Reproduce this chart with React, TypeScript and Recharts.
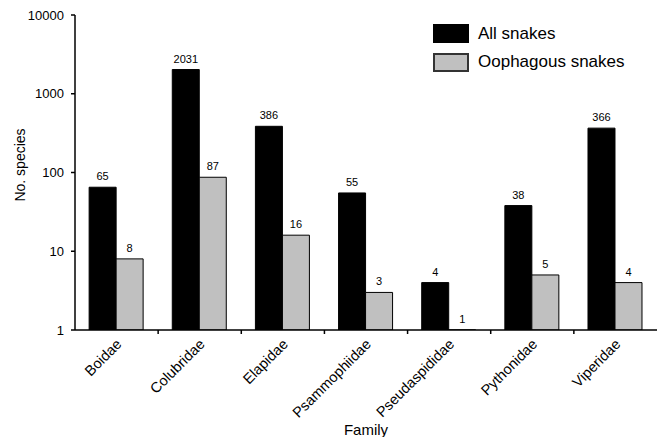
import { Bar, BarChart, LabelList, XAxis, YAxis } from 'recharts'

const FAMILIES = [
  'Boidae',
  'Colubridae',
  'Elapidae',
  'Psammophiidae',
  'Pseudaspididae',
  'Pythonidae',
  'Viperidae',
]
const ALL_SNAKES = [65, 2031, 386, 55, 4, 38, 366]
const OOPHAGOUS = [8, 87, 16, 3, 1, 5, 4]
const Y_TICKS = [1, 10, 100, 1000, 10000]

const FONT = '"Liberation Sans", Arial, Helvetica, sans-serif'
const W = 658
const H = 437
const Y_AXIS_W = 75
const RIGHT = 1
const BAND = (W - Y_AXIS_W - RIGHT) / FAMILIES.length

const data = FAMILIES.map((family, i) => ({
  family,
  all: ALL_SNAKES[i],
  oo: OOPHAGOUS[i],
}))

interface TickProps {
  x?: number
  y?: number
  index?: number
  payload?: { value: string }
}

function FamilyTick({ x = 0, y = 0, index = 0, payload }: TickProps) {
  const tx = x + 6
  const ty = y + 15
  return (
    <g>
      {index < FAMILIES.length - 1 && (
        <line x1={x + BAND / 2} x2={x + BAND / 2} y1={y} y2={y + 4} stroke="#000" strokeWidth={1.5} />
      )}
      <text
        x={tx}
        y={ty}
        textAnchor="end"
        transform={`rotate(-45, ${tx}, ${ty})`}
        fontSize={14.5}
        fontFamily={FONT}
        fill="#000"
      >
        {payload?.value}
      </text>
    </g>
  )
}

interface ValueLabelProps {
  x?: number | string
  y?: number | string
  width?: number | string
  value?: number | string
}

// number printed above each bar
function ValueLabel({ x = 0, y = 0, width = 0, value }: ValueLabelProps) {
  const cx = Number(x) + Number(width) / 2
  return (
    <text x={cx} y={Number(y) - 7} textAnchor="middle" fontSize={11} fontFamily={FONT} fill="#000">
      {value}
    </text>
  )
}

function LegendBox() {
  const rows = [
    { label: 'All snakes', bg: '#000', border: '1px solid #000' },
    { label: 'Oophagous snakes', bg: '#C0C0C0', border: '2px solid #333' },
  ]
  return (
    <div
      style={{
        position: 'absolute',
        left: 433,
        top: 19.5,
        fontFamily: FONT,
        fontSize: 17,
        color: '#000',
      }}
    >
      {rows.map((r) => (
        <div key={r.label} style={{ display: 'flex', alignItems: 'center', height: 28.5 }}>
          <span
            style={{
              display: 'inline-block',
              width: 36,
              height: 19,
              boxSizing: 'border-box',
              background: r.bg,
              border: r.border,
            }}
          />
          <span style={{ marginLeft: 9, whiteSpace: 'nowrap' }}>{r.label}</span>
        </div>
      ))}
    </div>
  )
}

export default function App() {
  return (
    <div style={{ position: 'absolute', left: 0, top: 0, width: W, height: H, background: '#fff' }}>
      <BarChart
        width={W}
        height={H}
        data={data}
        margin={{ top: 15, right: RIGHT, left: 0, bottom: 0 }}
        barCategoryGap="17%"
        barGap={0}
      >
        <XAxis
          dataKey="family"
          height={107}
          interval={0}
          tickLine={false}
          tickSize={0}
          tickMargin={0}
          axisLine={{ stroke: '#000', strokeWidth: 1.5 }}
          tick={<FamilyTick />}
          label={{
            content: () => (
              <text x={Y_AXIS_W + (W - Y_AXIS_W - RIGHT) / 2} y={435} textAnchor="middle" fontSize={15} fontFamily={FONT} fill="#000">
                Family
              </text>
            ),
          }}
        />
        <YAxis
          scale="log"
          domain={[1, 10000]}
          ticks={Y_TICKS}
          allowDataOverflow
          width={Y_AXIS_W}
          tickSize={4}
          tickMargin={7}
          axisLine={{ stroke: '#000', strokeWidth: 1.5 }}
          tickLine={{ stroke: '#000', strokeWidth: 1.5 }}
          tick={{ fill: '#000', fontSize: 13, fontFamily: FONT }}
          label={{
            content: () => (
              <text x={25} y={165} textAnchor="middle" transform="rotate(-90, 25, 165)" fontSize={14} fontFamily={FONT} fill="#000">
                No. species
              </text>
            ),
          }}
        />
        <Bar dataKey="all" fill="#000" stroke="#000" strokeWidth={1} isAnimationActive={false}>
          <LabelList dataKey="all" content={<ValueLabel />} />
        </Bar>
        <Bar
          dataKey="oo"
          fill="#C0C0C0"
          stroke="#000"
          strokeWidth={1}
          minPointSize={0.01}
          isAnimationActive={false}
        >
          <LabelList dataKey="oo" content={<ValueLabel />} />
        </Bar>
      </BarChart>
      <LegendBox />
    </div>
  )
}
